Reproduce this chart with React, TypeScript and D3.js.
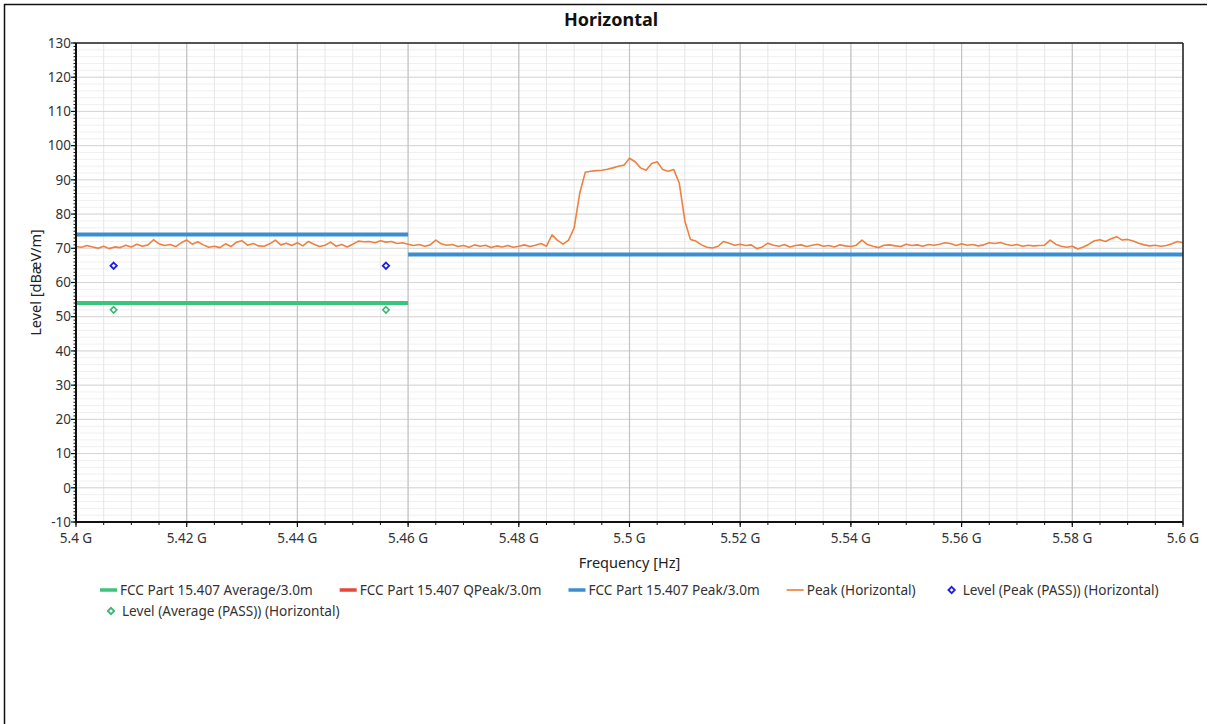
import React from 'react'
import * as d3 from 'd3'

// sweep: 5.4 GHz .. 5.6 GHz, 1 MHz per point
const FREQ_START = 5.4e9
const FREQ_STEP = 1e6

// Peak (Horizontal) trace, dBµV/m
const peakLevels = [
  70.5, 70.3, 70.8, 70.4, 70.0, 70.6, 69.9, 70.4, 70.2, 70.9,
  70.4, 71.2, 70.6, 71.0, 72.5, 71.3, 70.8, 71.1, 70.5, 71.6,
  72.4, 71.2, 71.9, 71.0, 70.3, 70.6, 70.2, 71.3, 70.5, 71.8,
  72.2, 70.9, 71.4, 70.7, 70.6, 71.3, 72.4, 71.0, 71.5, 70.8,
  71.6, 70.7, 72.0, 71.2, 70.5, 70.9, 71.8, 70.6, 71.1, 70.4,
  71.2, 72.1, 71.9, 72.0, 71.6, 72.2, 71.8, 72.0, 71.4, 71.6,
  71.2, 70.8, 71.1, 70.6, 71.0, 72.4, 71.3, 70.9, 71.1, 70.5,
  70.8, 70.3, 71.0, 70.6, 70.9, 70.2, 70.7, 70.4, 70.8, 70.3,
  70.6, 71.0, 70.5, 70.9, 71.4, 70.6, 73.9, 72.3, 71.2, 72.4,
  76.0, 86.0, 92.2, 92.5, 92.7, 92.8, 93.1, 93.5, 94.0, 94.3,
  96.3, 95.3, 93.5, 92.8, 94.8, 95.3, 93.0, 92.5, 93.0, 89.0,
  78.0, 72.6, 72.1, 71.0, 70.3, 70.1, 70.6, 72.0, 71.5, 70.9,
  71.2, 70.8, 71.0, 69.9, 70.4, 71.5, 70.9, 70.6, 71.1, 70.4,
  70.8, 71.0, 70.5, 70.9, 71.2, 70.6, 70.8, 70.4, 71.0, 70.7,
  70.5, 70.9, 72.4, 71.1, 70.6, 70.2, 70.9, 71.0, 70.7, 70.5,
  71.2, 70.8, 71.0, 70.6, 71.1, 70.9, 71.2, 71.6, 71.4, 70.8,
  71.3, 70.9, 71.1, 70.7, 71.0, 71.6, 71.4, 71.7, 71.2, 70.8,
  71.1, 70.6, 70.9, 70.7, 70.8, 70.9, 72.4, 71.2, 70.6, 70.3,
  70.6, 69.8, 70.4, 71.2, 72.2, 72.5, 72.0, 72.8, 73.4, 72.4,
  72.6, 72.1, 71.5, 71.0, 70.7, 70.9, 70.6, 70.8, 71.3, 72.0,
  71.6,
]

// limit lines
const peakLimitFrom = [5.4e9, 5.46e9]
const peakLimitTo = [5.46e9, 5.6e9]
const peakLimitLevel = [74, 68.2]
const avgLimitFrom = [5.4e9]
const avgLimitTo = [5.46e9]
const avgLimitLevel = [54]

// final measurement points
const markerFreqs = [5.4068e9, 5.456e9]
const markerPeakLevels = [64.9, 64.9]
const markerAvgLevels = [52.0, 52.0]

const yTicks = [-10, 0, 10, 20, 30, 40, 50, 60, 70, 80, 90, 100, 110, 120, 130]

const legendRow1 = [
  {label: 'FCC Part 15.407 Average/3.0m', color: '#3cc47c', kind: 'line'},
  {label: 'FCC Part 15.407 QPeak/3.0m', color: '#e8463a', kind: 'line'},
  {label: 'FCC Part 15.407 Peak/3.0m', color: '#3a8fd3', kind: 'line'},
  {label: 'Peak (Horizontal)', color: '#f08a48', kind: 'thin'},
  {label: 'Level (Peak (PASS)) (Horizontal)', color: '#1f1fe0', kind: 'diamond'},
]
const legendRow2 = [
  {label: 'Level (Average (PASS)) (Horizontal)', color: '#3cb371', kind: 'diamond'},
]

const FONT = "'Noto Sans', 'Open Sans', sans-serif"

let ctx: CanvasRenderingContext2D | null = null
function textWidth(s: string, font: string) {
  if (!ctx) ctx = document.createElement('canvas').getContext('2d')
  ctx!.font = font
  return ctx!.measureText(s).width
}

const diamond = (x: number, y: number, r: number) =>
  `M${x},${y - r}L${x + r},${y}L${x},${y + r}L${x - r},${y}Z`

export default function App() {
  const width = 1214, height = 724
  const m = {left: 76, top: 43, right: 1183, bottom: 522}

  const xScale = d3.scaleLinear().domain([5.4e9, 5.6e9]).range([m.left, m.right])
  const yScale = d3.scaleLinear().domain([-10, 130]).range([m.bottom, m.top])

  const xMajor = d3.range(0, 11).map(i => 5.4e9 + i * 2e7)
  const xMinor = d3.range(0, 41).map(i => 5.4e9 + i * 5e6)
  const yMinor = d3.range(-10, 131, 2)
  const yMinorTicks = d3.range(-10, 131, 1)

  const freqs = peakLevels.map((_, i) => FREQ_START + i * FREQ_STEP)
  const peakLine = d3.line<number>()
    .x((_, i) => xScale(freqs[i]))
    .y(d => yScale(d))

  const fmtX = (v: number) => `${Number((v / 1e9).toFixed(2))} G`

  const legendSize = 13.6
  const legendFont = `${legendSize}px ${FONT}`
  const layoutRow = (items: typeof legendRow1, startX: number) => {
    let x = startX
    return items.map(it => {
      const pos = x
      x += 20 + textWidth(it.label, legendFont) + 27
      return {...it, x: pos}
    })
  }
  const row1 = layoutRow(legendRow1, 100)
  const row2 = layoutRow(legendRow2, 102)

  const renderLegendItem = (it: any, y: number, key: string) => (
    <g key={key}>
      {it.kind === 'line' && <line x1={it.x} x2={it.x + 17} y1={y} y2={y} stroke={it.color} strokeWidth={3.5}/>}
      {it.kind === 'thin' && <line x1={it.x} x2={it.x + 17} y1={y} y2={y} stroke={it.color} strokeWidth={1.8}/>}
      {it.kind === 'diamond' && <path d={diamond(it.x + 9, y, 3.2)} fill="white" stroke={it.color} strokeWidth={1.8}/>}
      <text x={it.x + 20} y={y} dy="0.35em" fontSize={legendSize} fill="#333" fontFamily={FONT}>{it.label}</text>
    </g>
  )

  return (
    <svg width={width} height={height} style={{position: 'absolute', left: 0, top: 0, background: 'white'}}>
      {/* outer frame: top and left only */}
      <line x1={4} x2={1207} y1={4.5} y2={4.5} stroke="#111" strokeWidth={1.5}/>
      <line x1={4.5} x2={4.5} y1={4} y2={724} stroke="#111" strokeWidth={1.5}/>

      <text x={611} y={20} dy="0.35em" textAnchor="middle" fontSize={18} fontWeight="bold" fill="#111" fontFamily={FONT}>Horizontal</text>

      {/* grid */}
      {yMinor.map(v => (
        <line key={'ym' + v} x1={m.left} x2={m.right} y1={yScale(v)} y2={yScale(v)} stroke="#f0f0f0" strokeWidth={1}/>
      ))}
      {xMinor.map((v, i) => (
        <line key={'xm' + i} x1={xScale(v)} x2={xScale(v)} y1={m.top} y2={m.bottom} stroke="#e6e6e6" strokeWidth={1}/>
      ))}
      {yTicks.map(v => (
        <line key={'yg' + v} x1={m.left} x2={m.right} y1={yScale(v)} y2={yScale(v)} stroke="#d6d6d6" strokeWidth={1}/>
      ))}
      {xMajor.map((v, i) => (
        <line key={'xg' + i} x1={xScale(v)} x2={xScale(v)} y1={m.top} y2={m.bottom} stroke="#c4c4c4" strokeWidth={1.2}/>
      ))}

      {/* limits */}
      {peakLimitLevel.map((lv, i) => (
        <line key={'pl' + i} x1={xScale(peakLimitFrom[i])} x2={xScale(peakLimitTo[i])} y1={yScale(lv)} y2={yScale(lv)} stroke="#3a8fd3" strokeWidth={4}/>
      ))}
      {avgLimitLevel.map((lv, i) => (
        <line key={'al' + i} x1={xScale(avgLimitFrom[i])} x2={xScale(avgLimitTo[i])} y1={yScale(lv)} y2={yScale(lv)} stroke="#3cc47c" strokeWidth={4}/>
      ))}

      {/* trace */}
      <path d={peakLine(peakLevels) || ''} fill="none" stroke="#ee8040" strokeWidth={1.6} strokeLinejoin="round"/>

      {/* markers */}
      {markerFreqs.map((f, i) => (
        <g key={'mk' + i}>
          <path d={diamond(xScale(f), yScale(markerPeakLevels[i]), 3.2)} fill="white" stroke="#1f1fe0" strokeWidth={1.8}/>
          <path d={diamond(xScale(f), yScale(markerAvgLevels[i]), 3.2)} fill="white" stroke="#3cb371" strokeWidth={1.5}/>
        </g>
      ))}

      {/* plot frame */}
      <line x1={m.left} x2={m.right} y1={m.top} y2={m.top} stroke="#222" strokeWidth={1.5}/>
      <line x1={m.right} x2={m.right} y1={m.top} y2={m.bottom} stroke="#222" strokeWidth={1.5}/>

      {/* y axis */}
      <line x1={m.left} x2={m.left} y1={m.top} y2={m.bottom + 1} stroke="#111" strokeWidth={2}/>
      {yMinorTicks.map(v => (
        <line key={'yt' + v} x1={m.left - 2.5} x2={m.left} y1={yScale(v)} y2={yScale(v)} stroke="#111" strokeWidth={1}/>
      ))}
      {yTicks.map(v => (
        <g key={'yl' + v}>
          <line x1={m.left - 5} x2={m.left} y1={yScale(v)} y2={yScale(v)} stroke="#111" strokeWidth={1.2}/>
          <text x={m.left - 5} y={yScale(v)} dy="0.35em" textAnchor="end" fontSize={13.5} fill="#333" fontFamily={FONT}>{v}</text>
        </g>
      ))}

      {/* x axis */}
      <line x1={m.left - 1} x2={m.right} y1={m.bottom} y2={m.bottom} stroke="#111" strokeWidth={2}/>
      {xMinor.map((v, i) => (
        <line key={'xt' + i} x1={xScale(v)} x2={xScale(v)} y1={m.bottom} y2={m.bottom + 3} stroke="#111" strokeWidth={1}/>
      ))}
      {xMajor.map((v, i) => (
        <g key={'xl' + i}>
          <line x1={xScale(v)} x2={xScale(v)} y1={m.bottom} y2={m.bottom + 5} stroke="#111" strokeWidth={1.2}/>
          <text x={xScale(v)} y={m.bottom + 16} dy="0.35em" textAnchor="middle" fontSize={13.5} fill="#333" fontFamily={FONT}>{fmtX(v)}</text>
        </g>
      ))}

      <text x={(m.left + m.right) / 2} y={563} dy="0.35em" textAnchor="middle" fontSize={14.5} fill="#222" fontFamily={FONT}>Frequency [Hz]</text>
      <text transform={`translate(36,${(m.top + m.bottom) / 2}) rotate(-90)`} dy="0.35em" textAnchor="middle" fontSize={14.5} fill="#222" fontFamily={FONT}>Level [dBæV/m]</text>

      {/* legend */}
      {row1.map((it, i) => renderLegendItem(it, 590, 'r1' + i))}
      {row2.map((it, i) => renderLegendItem(it, 611, 'r2' + i))}
    </svg>
  )
}
